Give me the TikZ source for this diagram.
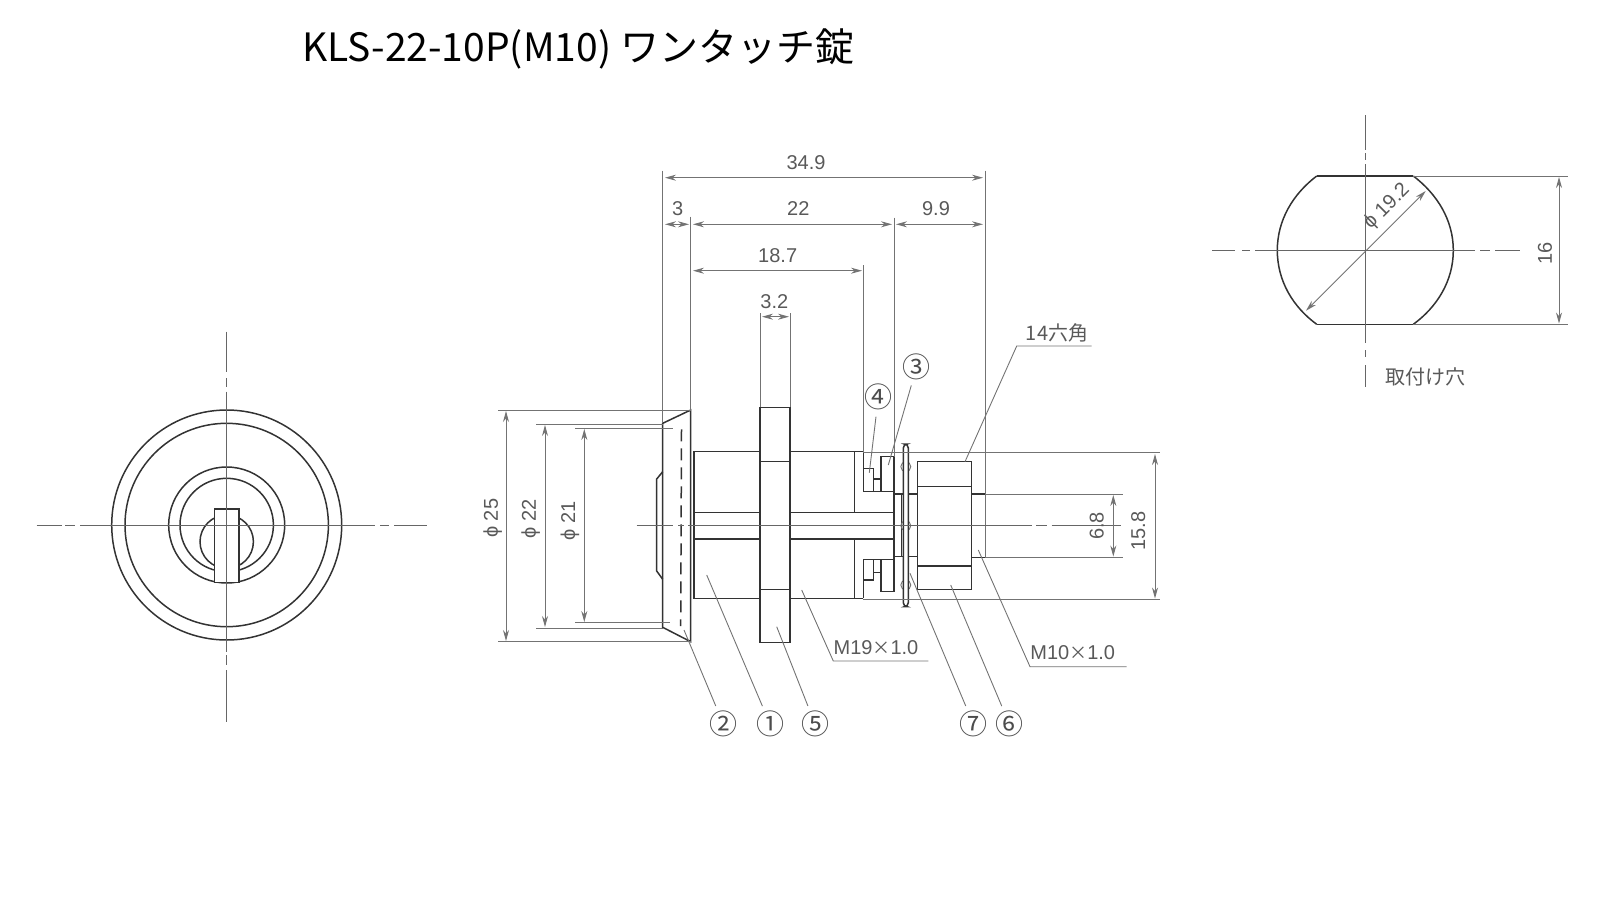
\documentclass[tikz,border=0pt]{standalone}
\usepackage{fontspec}
\setmainfont{Liberation Sans}
\newfontfamily\cjk{Noto Sans CJK JP}
\usetikzlibrary{arrows.meta}
\newcommand{\bigtimes}{{\cjk\fontsize{9}{10}\selectfont ×}}
\tikzset{
  outline/.style={draw=black!80,line width=0.75pt},
  thinline/.style={draw=black!55,line width=0.45pt},
  centerline/.style={draw=black!60,line width=0.5pt},
  dimarrow/.style={thinline,{Stealth[length=5.5pt,width=3pt]}-{Stealth[length=5.5pt,width=3pt]}},
  dimtext/.style={text=black!65,font=\fontsize{10}{10}\selectfont,inner sep=0pt},
  cjktext/.style={text=black!65,font=\cjk\fontsize{10}{10}\selectfont,inner sep=0pt},
  callout/.style={circle,inner sep=0pt,minimum size=12pt,text=black!70,font=\cjk\fontsize{14}{14}\selectfont}
}
\begin{document}
\begin{tikzpicture}[x=0.5pt,y=-0.5pt]
    \useasboundingbox (0,0) rectangle (1600,900);

    \node[anchor=west,inner sep=0pt,font=\cjk\fontsize{19.5}{20}\selectfont] (title) at (302,49) {KLS-22-10P(M10) ワンタッチ錠};

    % front view
    \coordinate (front) at (226.7,525);
    \foreach \r in {115,101.7,58,46.7}
        \draw[outline] (front) circle (\r);
    \draw[outline] (226.7,541.7) circle (26.7);
    \draw[outline,fill=white] (214.3,509) rectangle (239,582.7);
    \foreach \a/\b in {36.7/61.7,65/75,80/375,380/389,394/426.7}
        \draw[centerline] (\a,525) -- (\b,525);
    \foreach \a/\b in {331.7/371.7,378/386.7,391.7/651.7,655/665,670/721.7}
        \draw[centerline] (226.7,\a) -- (226.7,\b);

    % side view
    \draw[outline] (662.7,423.3) -- (690.7,410) -- (690.7,641.7) -- (662.7,627.3) -- cycle;
    \draw[outline] (662.7,471.7) -- (656.7,479) -- (656.7,571) -- (662.7,579.3);
    \draw[outline,dash pattern=on 6pt off 3.5pt] (681.5,429.3) -- (680.7,626);
    \draw[outline] (694,451.7) rectangle (760,598.3);
    \draw[outline] (790,451.7) -- (863.3,451.7);
    \draw[outline] (790,598.3) -- (863.3,598.3);
    \draw[outline] (760,407.3) rectangle (790,642.3);
    \draw[outline] (760,461.7) -- (790,461.7);
    \draw[outline] (760,589.3) -- (790,589.3);
    \foreach \y in {512.3,539} {
        \draw[outline] (694,\y) -- (760,\y);
        \draw[outline] (790,\y) -- (894,\y);
    }
    \draw[outline] (854.3,451.7) -- (854.3,512.3);
    \draw[outline] (854.3,539) -- (854.3,598.3);

    % pockets
    \draw[outline] (863.3,451.7) -- (863.3,491.7) -- (894,491.7);
    \draw[outline] (863.3,598.3) -- (863.3,559.3) -- (894,559.3);
    \draw[outline] (863.3,468.3) rectangle (873.3,491.7);
    \draw[outline] (873.3,479) rectangle (881,491.7);
    \draw[outline] (881,456.7) rectangle (894,491.7);
    \draw[outline] (863.3,559.3) rectangle (873.3,580);
    \draw[outline] (873.3,559.3) rectangle (881,572.7);
    \draw[outline] (881,559.3) rectangle (894,591.7);
    \draw[outline] (894,491.7) -- (894,559.3);

    % spacer, washer, nut, stud
    \foreach \y in {494,556.7}
        \draw[outline] (894,\y) -- (917.7,\y);
    \draw[outline] (901.5,494) -- (901.5,556.7);
    \foreach \y in {466.7,525.7,585}
        \draw[thinline] (905.8,\y) circle (5);
    \draw[outline,fill=white,rounded corners=2pt] (903.3,444) rectangle (908.3,606.7);
    \draw[outline] (917.7,461.7) rectangle (971.7,589.3);
    \draw[outline] (917.7,486.7) -- (971.7,486.7);
    \draw[outline] (917.7,566) -- (971.7,566);
    \draw[outline] (971.7,494) -- (985,494);
    \draw[outline] (971.7,557.3) -- (985,557.3);

    % extension lines
    \foreach \x/\a/\b in {662.7/170.7/423.3,690.7/216.7/410,760.7/313.3/407.3,790/313.3/407.3,863.3/265/451.7,894/217.7/456.7,985/170.7/557.3}
        \draw[thinline] (\x,\a) -- (\x,\b);
    \foreach \y/\a/\b in {410/498.3/690.7,424/536/662.7,428.3/575/673.3,622.7/575/670,628/536/662.7,641.7/498.3/690.7}
        \draw[thinline] (\a,\y) -- (\b,\y);
    \foreach \y/\a/\b in {452.8/863.3/1160,599.3/863.3/1160,494/985/1123,557.3/985/1123}
        \draw[thinline] (\a,\y) -- (\b,\y);
    \foreach \a/\b in {636.7/672.7,678.3/684,688/1031.7,1036/1046.7,1051.7/1120.7}
        \draw[centerline] (\a,525.7) -- (\b,525.7);

    % dimensions
    \coordinate (d349a) at (665,177.7);   \coordinate (d349b) at (983,177.7);
    \coordinate (d3a) at (665,224.3);     \coordinate (d3b) at (689,224.3);
    \coordinate (d22a) at (693,224.3);    \coordinate (d22b) at (892,224.3);
    \coordinate (d99a) at (896,224.3);    \coordinate (d99b) at (983,224.3);
    \coordinate (d187a) at (693,270.7);   \coordinate (d187b) at (862,270.7);
    \coordinate (d32a) at (762,316.7);    \coordinate (d32b) at (789,316.7);
    \coordinate (d25a) at (506,411);      \coordinate (d25b) at (506,641);
    \coordinate (d22va) at (545,425);     \coordinate (d22vb) at (545,627);
    \coordinate (d21a) at (584.3,429);    \coordinate (d21b) at (584.3,622);
    \coordinate (d68a) at (1113.3,495);   \coordinate (d68b) at (1113.3,556.5);
    \coordinate (d158a) at (1155,454);    \coordinate (d158b) at (1155,598.5);
    \coordinate (d16a) at (1559,177);     \coordinate (d16b) at (1559,323.5);
    \coordinate (d192a) at (1306,310.7);  \coordinate (d192b) at (1425.7,191);
    \foreach \p/\q in {d349a/d349b,d3a/d3b,d22a/d22b,d99a/d99b,d187a/d187b,d32a/d32b,d25a/d25b,d22va/d22vb,d21a/d21b,d68a/d68b,d158a/d158b,d16a/d16b,d192a/d192b}
        \draw[dimarrow] (\p) -- (\q);

    \node[dimtext] (t349) at (806,162.7) {34.9};
    \node[dimtext] (t3) at (677.7,209) {3};
    \node[dimtext] (t22) at (798.3,209) {22};
    \node[dimtext] (t99) at (936,209) {9.9};
    \node[dimtext] (t187) at (777.7,255.3) {18.7};
    \node[dimtext] (t32) at (774.3,302) {3.2};
    \node[dimtext,rotate=90] (t25) at (492.7,518.3) {ϕ 25};
    \node[dimtext,rotate=90] (t22v) at (530.7,519) {ϕ 22};
    \node[dimtext,rotate=90] (t21) at (570,520.7) {ϕ 21};
    \node[dimtext,rotate=90] (t68) at (1096.7,526) {6.8};
    \node[dimtext,rotate=90] (t158) at (1138.3,531) {15.8};
    \node[dimtext,rotate=90] (t16) at (1545,253) {16};
    \node[dimtext,rotate=45] (t192) at (1387,206.5) {ϕ 19.2};
    \node[cjktext] (thex) at (1057,332.7) {14六角};
    \node[dimtext] (tm19) at (876,647.3) {M19\bigtimes 1.0};
    \node[dimtext] (tm10) at (1072.7,652.3) {M10\bigtimes 1.0};
    \node[cjktext] (thole) at (1425,376.7) {取付け穴};

    % leaders
    \node[callout] (c1) at (770,724) {①};
    \node[callout] (c2) at (723.3,724) {②};
    \node[callout] (c3) at (916.7,366.7) {③};
    \node[callout] (c4) at (878.3,397.3) {④};
    \node[callout] (c5) at (815,724) {⑤};
    \node[callout] (c6) at (1009.3,724) {⑥};
    \node[callout] (c7) at (973.3,724) {⑦};
    \coordinate (p1) at (706.7,575);
    \coordinate (p2) at (684,630);
    \coordinate (p3) at (888.3,465);
    \coordinate (p4) at (869.3,472.7);
    \coordinate (p5) at (776.7,626.7);
    \coordinate (p6) at (950.7,585);
    \coordinate (p7) at (910,573.3);
    \foreach \i in {1,...,7}
        \draw[thinline] (c\i) -- (p\i);

    \coordinate (hexa) at (965,461.7);
    \coordinate (hexb) at (1016.7,346);
    \coordinate (hexc) at (1091.7,346);
    \draw[thinline] (hexa) -- (hexb) -- (hexc);
    \coordinate (m19a) at (801.7,590);
    \coordinate (m19b) at (833.3,661);
    \coordinate (m19c) at (928.3,661);
    \draw[thinline] (m19a) -- (m19b) -- (m19c);
    \coordinate (m10a) at (978.3,550);
    \coordinate (m10b) at (1030,666.7);
    \coordinate (m10c) at (1126.7,666.7);
    \draw[thinline] (m10a) -- (m10b) -- (m10c);

    % mounting hole
    \draw[outline] (1316.7,176) -- (1413.3,176);
    \draw[outline] (1316.7,324.3) -- (1413.3,324.3);
    \draw[outline] (1413.3,324.3) .. controls (1437,307) and (1453.3,281) .. (1453.3,250.3) .. controls (1453.3,220) and (1437,194) .. (1413.3,176);
    \draw[outline] (1316.7,324.3) .. controls (1293,307) and (1277.3,281) .. (1277.3,250.3) .. controls (1277.3,220) and (1293,194) .. (1316.7,176);
    \draw[thinline] (1413.3,176) -- (1568,176);
    \draw[thinline] (1413.3,324.3) -- (1568,324.3);
    \foreach \a/\b in {1212.3/1235,1242/1250,1255/1475,1480/1490,1495/1520}
        \draw[centerline] (\a,250.3) -- (\b,250.3);
    \foreach \a/\b in {115/150,153/160,164/343,350/357,365/386.7}
        \draw[centerline] (1365,\a) -- (1365,\b);
\end{tikzpicture}
\end{document}
